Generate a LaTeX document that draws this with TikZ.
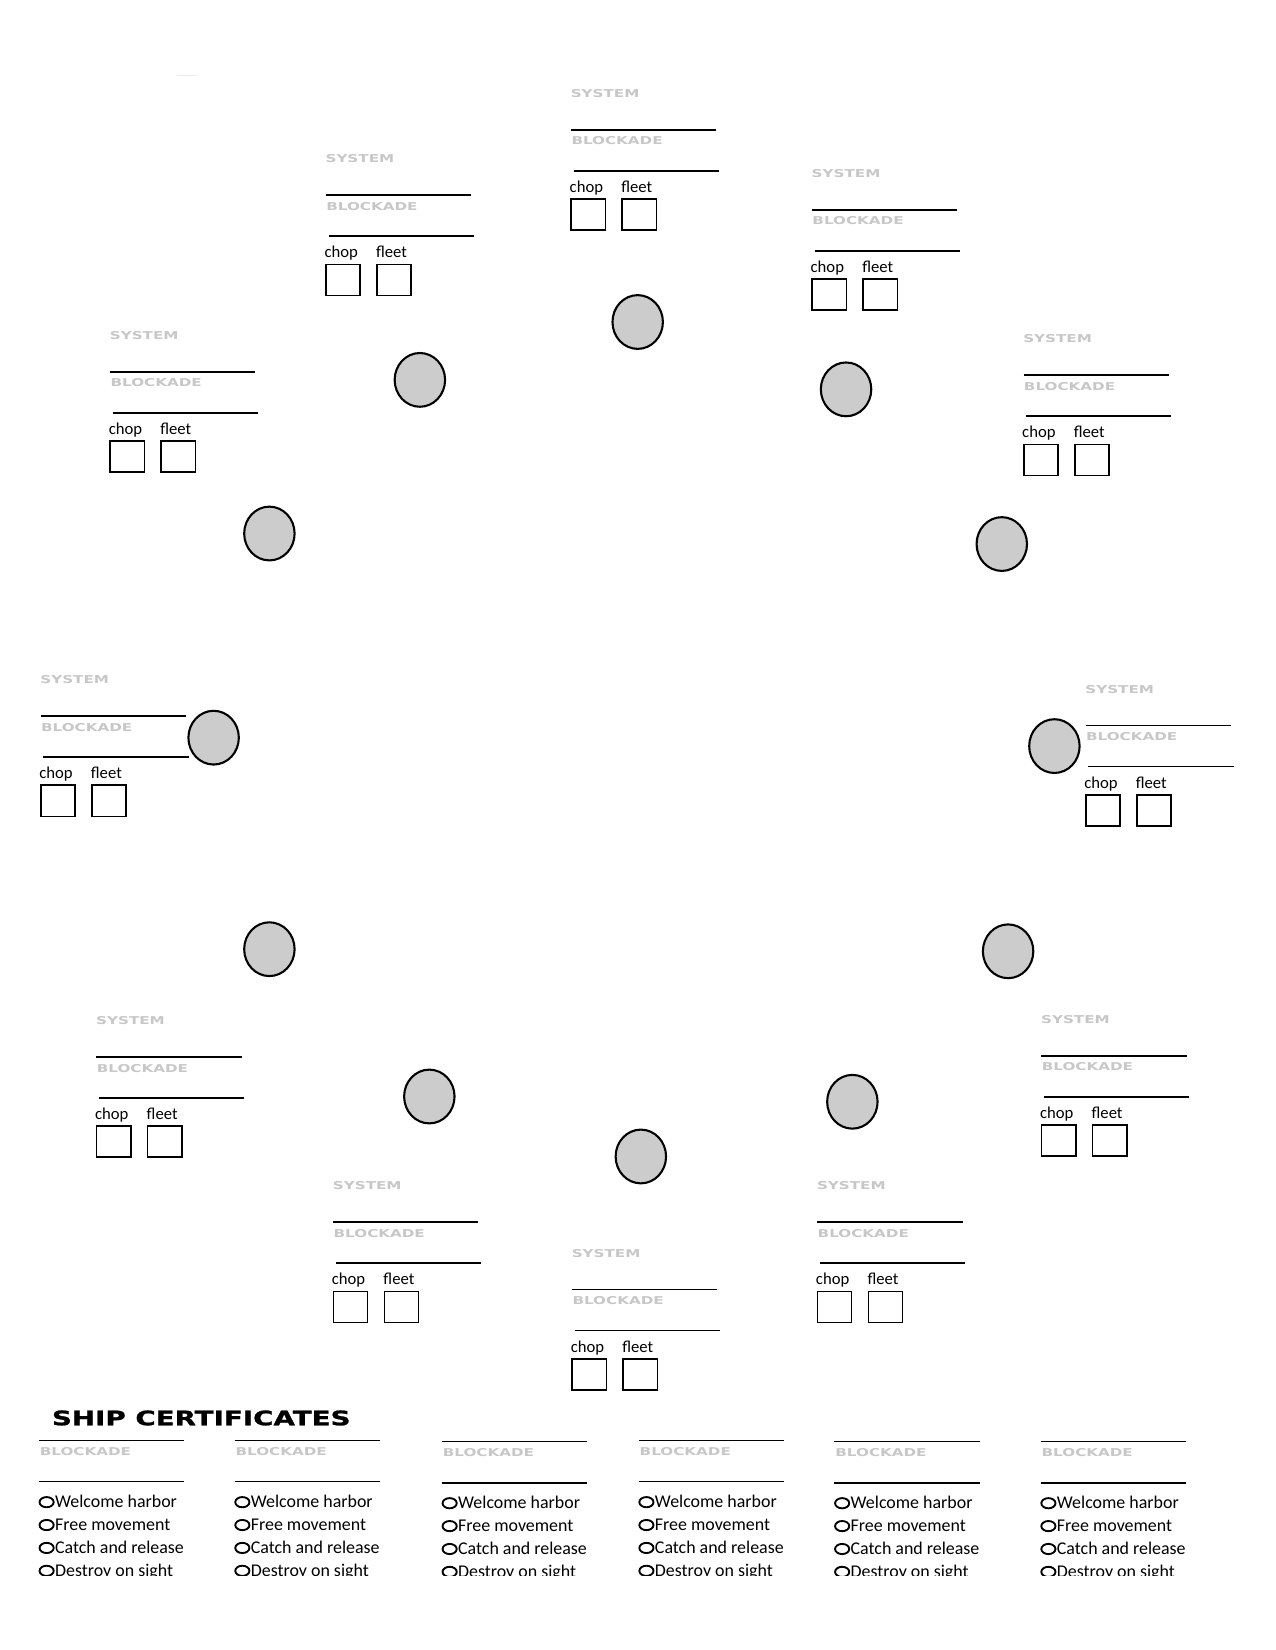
\documentclass[tikz,border=0pt]{standalone}
\usepackage{fontspec}
\setmainfont{Carlito}
\newfontfamily\techfont[FakeStretch=1.4]{DejaVu Sans}
\newfontfamily\titlefont[FakeStretch=1.385,FakeBold=1.2]{DejaVu Sans}
\usetikzlibrary{shapes.geometric}
\tikzset{
x=0.505pt, y=-0.505pt, % one unit = one pixel of the sheet
planet/.style={ellipse, draw, line width=1pt, fill=black!20, minimum width=24.2pt, minimum height=25.8pt, inner sep=0pt},
greytag/.style={anchor=west, inner sep=0pt, text=black!22, font=\techfont\bfseries\fontsize{5.2}{6}\selectfont},
writeline/.style={line width=0.8pt},
tickbox/.style={draw, line width=0.8pt, anchor=north west, minimum width=16.4pt, minimum height=14.9pt, inner sep=0pt},
handtext/.style={anchor=base west, inner sep=0pt, font=\fontsize{8}{9.6}\selectfont},
radio/.style={ellipse, draw, line width=0.9pt, minimum width=6.8pt, minimum height=4.9pt, inner sep=0pt},
optiontext/.style={anchor=base west, inner sep=0pt, font=\fontsize{8.6}{10.3}\selectfont},
}

\begin{document}
\begin{tikzpicture}
    \useasboundingbox (0,0) rectangle (1212,1568);
    \draw[black!8, line width=0.5pt] (168,71.3) -- (187,71.3);
    % planets
    \node[planet] (p1)  at (606,306)  {};
    \node[planet] (p2)  at (399,361)  {};
    \node[planet] (p3)  at (804,370)  {};
    \node[planet] (p4)  at (256,507)  {};
    \node[planet] (p5)  at (952,517)  {};
    \node[planet] (p6)  at (203,701)  {};
    \node[planet] (p7)  at (1002,709) {};
    \node[planet] (p8)  at (256,902)  {};
    \node[planet] (p9)  at (958,904)  {};
    \node[planet] (p10) at (408,1042) {};
    \node[planet] (p11) at (810,1047) {};
    \node[planet] (p12) at (609,1099) {};
    % system forms
    \foreach \n/\x/\y in {a/542/89, b/309/151, c/771/165, d/104/319, e/972/322, f/38/646,
                          g/1031/655, h/91/970, i/989/969, j/316/1127, k/776/1127, l/543/1191}{
        \node[greytag] (sys-\n) at (\x,\y) {SYSTEM};
        \draw[writeline] (\x+0.7,\y+34.5) -- +(138,0);
        \node[greytag] (blk-\n) at (\x+0.7,\y+45) {BLOCKADE};
        \draw[writeline] (\x+3.2,\y+73.5) -- +(138,0);
        \node[handtext] (chop-\n) at (\x-1,\y+94) {chop};
        \node[handtext] (fleet-\n) at (\x+48,\y+94) {fleet};
        \node[tickbox] (chopbox-\n) at (\x,\y+99.5) {};
        \node[tickbox] (fleetbox-\n) at (\x+48.5,\y+99.5) {};
    }
    % ship certificates
    \node[anchor=west, inner sep=0pt, font=\titlefont\bfseries\fontsize{9.6}{11}\selectfont] (cert) at (49,1347.5) {SHIP CERTIFICATES};
    \begin{scope}
        \clip (0,0) rectangle (1212,1497);
        \foreach \c/\x/\d in {1/37/0, 2/223/0, 3/420/1, 4/607/0, 5/793/1, 6/989/1}{
            \draw[writeline] (\x,1369+\d) -- +(138,0);
            \node[greytag] (cblk-\c) at (\x+0.5,1379.3+\d) {BLOCKADE};
            \draw[writeline] (\x,1408+\d) -- +(138,0);
            \foreach \t [count=\r from 0] in {Welcome harbor, Free movement, Catch and release, Destroy on sight}{
                \node[radio] (radio-\c-\r) at (\x+7.3,1427.5+21.75*\r+\d) {};
                \node[optiontext] (opt-\c-\r) at (\x+15,1432.5+21.75*\r+\d) {\t};
            }
        }
    \end{scope}
\end{tikzpicture}
\end{document}
